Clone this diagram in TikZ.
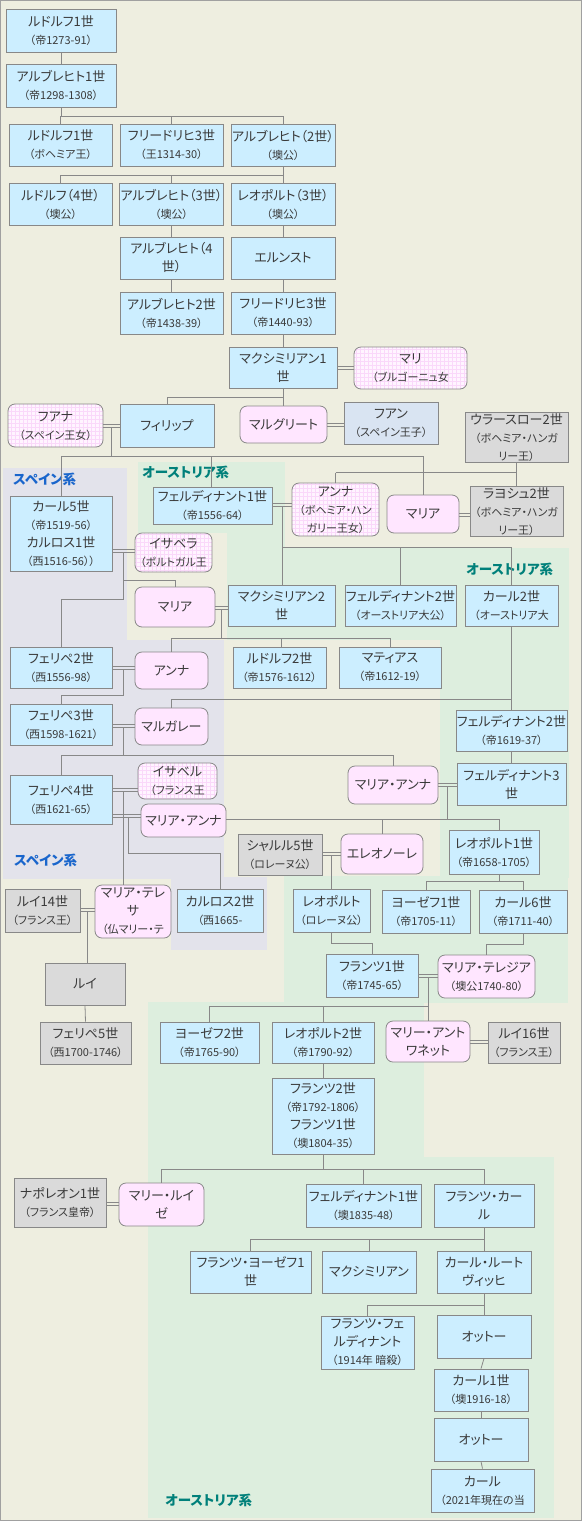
\documentclass[tikz,border=0pt]{standalone}
\usepackage{fontspec}
\setmainfont{Noto Sans CJK JP}[RawFeature=+palt]
\definecolor{bg}{HTML}{EEEEE0}
\definecolor{lav}{HTML}{E3E3EB}
\definecolor{grn}{HTML}{DDEEDE}
\definecolor{bluef}{HTML}{CCEEFF}
\definecolor{pinkf}{HTML}{FFE6FF}
\definecolor{pgf}{HTML}{FFF4FF}
\definecolor{grayf}{HTML}{DADADA}
\definecolor{juanf}{HTML}{D9E4F2}
\definecolor{bd}{HTML}{888888}
\definecolor{lnc}{HTML}{888888}
\definecolor{tx}{HTML}{3A3A3A}
\definecolor{spc}{HTML}{1A66CC}
\definecolor{auc}{HTML}{00807A}
\definecolor{gridc}{HTML}{FAD8FA}
\definecolor{outerc}{HTML}{A0A0A0}
\newcommand\sm{\fontsize{11}{18}\selectfont}
\newcommand\bx[7]{%
  \pgfmathsetmacro\bw{#5-#3}\pgfmathsetmacro\bh{#6-#4}%
  \pgfmathsetmacro\bcx{(#3+#5)/2}\pgfmathsetmacro\bcy{(#4+#6)/2}%
  \node[#2, minimum width=\bw pt, minimum height=\bh pt] (#1) at (\bcx,\bcy) {#7};}
\newcommand\mar[4]{\draw[ln] (#1.east |- 0,#3) -- (#2.west |- 0,#3); \draw[ln] (#1.east |- 0,#4) -- (#2.west |- 0,#4);}
\newcommand\drop[2]{\draw[ln] (#1.north |- 0,#2) -- (#1.north);}
\tikzset{
  base/.style={draw=bd, line width=0.8pt, inner sep=1pt, align=center, text=tx, font=\fontsize{13}{18}\selectfont},
  bl/.style={base, fill=bluef},
  gy/.style={base, fill=grayf},
  jn/.style={base, fill=juanf},
  pk/.style={base, fill=pinkf, rounded corners=7pt},
  pg/.style={base, rounded corners=7pt, fill=pgf, path picture={\draw[gridc, line width=0.5pt, step=4pt] (path picture bounding box.south west) grid (path picture bounding box.north east);}},
  ln/.style={draw=lnc, line width=0.8pt},
  lab/.style={font=\fontsize{13.5}{15}\selectfont\bfseries, anchor=west, inner sep=0pt},
}
\begin{document}
\begin{tikzpicture}[x=1pt,y=-1pt]
\useasboundingbox (0,0) rectangle (582,1521);
\fill[bg] (0,0) rectangle (582,1521);
% regions
\fill[lav] (3,468) rectangle (127,640);
\fill[lav] (3,640) rectangle (224,879);
\fill[lav] (171,877) rectangle (267,950);
\fill[grn] (138,462) rectangle (285,533);
\fill[grn] (227,533) rectangle (285,548);
\fill[grn] (227,548) rectangle (569,640);
\fill[grn] (440,640) rectangle (569,878);
\fill[grn] (284,876) rectangle (568,1003);
\fill[grn] (148,1002) rectangle (424,1160);
\fill[grn] (148,1157) rectangle (554,1518);
\draw[outerc, line width=1.2pt] (0.6,0.6) rectangle (581.4,1520.4);
% labels
\node[lab, text=spc] (sp1) at (13,479) {スペイン系};
\node[lab, text=spc] (sp2) at (14,860) {スペイン系};
\node[lab, text=auc] (au1) at (142,472) {オーストリア系};
\node[lab, text=auc] (au2) at (466,569) {オーストリア系};
\node[lab, text=auc] (au3) at (165,1500) {オーストリア系};
% nodes
\bx{r1}{bl}{6}{9}{116}{52}{ルドルフ1世\\{\sm （帝1273-91）}}
\bx{a1}{bl}{6}{64}{116}{107}{アルブレヒト1世\\{\sm （帝1298-1308）}}
\bx{r1b}{bl}{9}{124}{112}{166}{ルドルフ1世\\{\sm （ボヘミア王）}}
\bx{f3a}{bl}{120}{124}{223}{166}{フリードリヒ3世\\{\sm （王1314-30）}}
\bx{a2}{bl}{231}{124}{335}{166}{アルブレヒト（2世）\\{\sm （墺公）}}
\bx{r4}{bl}{9}{183}{112}{225}{ルドルフ（4世）\\{\sm （墺公）}}
\bx{a3}{bl}{120}{183}{223}{225}{アルブレヒト（3世）\\{\sm （墺公）}}
\bx{l3}{bl}{231}{183}{335}{225}{レオポルト（3世）\\{\sm （墺公）}}
\bx{a4}{bl}{120}{237}{223}{279}{アルブレヒト（4\\世）}
\bx{er}{bl}{231}{237}{335}{279}{エルンスト}
\bx{a2e}{bl}{120}{292}{223}{334}{アルブレヒト2世\\{\sm （帝1438-39）}}
\bx{f3}{bl}{231}{292}{335}{334}{フリードリヒ3世\\{\sm （帝1440-93）}}
\bx{m1}{bl}{229}{347}{337}{388}{マクシミリアン1\\世}
\bx{mari}{pg}{354}{347}{467}{389}{マリ\\{\sm （ブルゴーニュ女}}
\bx{juana}{pg}{8}{404}{103}{447}{フアナ\\{\sm （スペイン王女）}}
\bx{phil}{bl}{120}{404}{214}{447}{フィリップ}
\bx{marg}{pk}{240}{406}{327}{443}{マルグリート}
\bx{juan}{jn}{344}{402}{438}{444}{フアン\\{\sm （スペイン王子）}}
\bx{wl}{gy}{465}{413}{568}{462}{ウラースロー2世\\{\sm （ボヘミア・ハンガ}\\{\sm リー王）}}
\bx{k5}{bl}{10}{496}{112}{571}{カール5世\\{\sm （帝1519-56）}\\カルロス1世\\{\sm （西1516-56））}}
\bx{fd1}{bl}{153}{487}{272}{524}{フェルディナント1世\\{\sm （帝1556-64）}}
\bx{anna1}{pg}{292}{483}{379}{536}{アンナ\\{\sm （ボヘミア・ハン}\\{\sm ガリー王女）}}
\bx{mariaH}{pk}{387}{495}{459}{533}{マリア}
\bx{lj}{gy}{470}{487}{563}{536}{ラヨシュ2世\\{\sm （ボヘミア・ハンガ}\\{\sm リー王）}}
\bx{isab}{pg}{135}{533}{212}{572}{イサベラ\\{\sm （ポルトガル王}}
\bx{mariaS}{pk}{135}{587}{215}{627}{マリア}
\bx{m2}{bl}{228}{585}{335}{626}{マクシミリアン2\\世}
\bx{fd2a}{bl}{345}{585}{456}{626}{フェルディナント2世\\{\sm （オーストリア大公）}}
\bx{k2}{bl}{465}{585}{558}{626}{カール2世\\{\sm （オーストリア大}}
\bx{p2}{bl}{10}{647}{112}{688}{フェリペ2世\\{\sm （西1556-98）}}
\bx{anna2}{pk}{135}{652}{208}{689}{アンナ}
\bx{r2}{bl}{233}{647}{326}{688}{ルドルフ2世\\{\sm （帝1576-1612）}}
\bx{mat}{bl}{339}{647}{441}{688}{マティアス\\{\sm （帝1612-19）}}
\bx{p3}{bl}{10}{704}{112}{745}{フェリペ3世\\{\sm （西1598-1621）}}
\bx{marga}{pk}{135}{708}{208}{745}{マルガレー}
\bx{fd2}{bl}{457}{710}{566}{751}{フェルディナント2世\\{\sm （帝1619-37）}}
\bx{p4}{bl}{10}{775}{112}{824}{フェリペ4世\\{\sm （西1621-65）}}
\bx{isabel}{pg}{138}{763}{217}{799}{イサベル\\{\sm （フランス王}}
\bx{maS}{pk}{141}{804}{226}{837}{マリア・アンナ}
\bx{maA}{pk}{348}{766}{438}{804}{マリア・アンナ}
\bx{fd3}{bl}{457}{763}{566}{805}{フェルディナント3\\世}
\bx{ch5}{gy}{238}{834}{322}{875}{シャルル5世\\{\sm （ロレーヌ公）}}
\bx{eleo}{pk}{341}{834}{423}{874}{エレオノーレ}
\bx{l1}{bl}{449}{830}{539}{874}{レオポルト1世\\{\sm （帝1658-1705）}}
\bx{l14}{gy}{5}{889}{80}{932}{ルイ14世\\{\sm （フランス王）}}
\bx{mt}{pk}{95}{885}{171}{938}{マリア・テレ\\サ\\{\sm （仏マリー・テ}}
\bx{c2}{bl}{177}{889}{263}{932}{カルロス2世\\{\sm （西1665-}}
\bx{lor}{bl}{293}{889}{370}{932}{レオポルト\\{\sm （ロレーヌ公）}}
\bx{j1}{bl}{382}{890}{470}{933}{ヨーゼフ1世\\{\sm （帝1705-11）}}
\bx{k6}{bl}{479}{890}{567}{933}{カール6世\\{\sm （帝1711-40）}}
\bx{fz1}{bl}{326}{954}{418}{997}{フランツ1世\\{\sm （帝1745-65）}}
\bx{mth}{pk}{438}{955}{535}{998}{マリア・テレジア\\{\sm （墺公1740-80）}}
\bx{louis}{gy}{45}{963}{125}{1005}{ルイ}
\bx{p5}{gy}{40}{1022}{131}{1064}{フェリペ5世\\{\sm （西1700-1746）}}
\bx{j2}{bl}{160}{1022}{259}{1063}{ヨーゼフ2世\\{\sm （帝1765-90）}}
\bx{l2}{bl}{272}{1022}{374}{1063}{レオポルト2世\\{\sm （帝1790-92）}}
\bx{ma}{pk}{386}{1021}{470}{1062}{マリー・アント\\ワネット}
\bx{l16}{gy}{488}{1022}{560}{1063}{ルイ16世\\{\sm （フランス王）}}
\bx{fz2}{bl}{272}{1078}{374}{1154}{フランツ2世\\{\sm （帝1792-1806）}\\フランツ1世\\{\sm （墺1804-35）}}
\bx{nap}{gy}{14}{1178}{106}{1227}{ナポレオン1世\\{\sm （フランス皇帝）}}
\bx{ml}{pk}{119}{1183}{204}{1226}{マリー・ルイ\\ゼ}
\bx{fd1b}{bl}{306}{1184}{421}{1227}{フェルディナント1世\\{\sm （墺1835-48）}}
\bx{fk}{bl}{434}{1184}{534}{1227}{フランツ・カー\\ル}
\bx{fj}{bl}{190}{1251}{311}{1293}{フランツ・ヨーゼフ1\\世}
\bx{mx}{bl}{322}{1251}{416}{1293}{マクシミリアン}
\bx{kl}{bl}{437}{1251}{531}{1293}{カール・ルート\\ヴィッヒ}
\bx{ff}{bl}{321}{1316}{414}{1369}{フランツ・フェ\\ルディナント\\{\sm （1914年 暗殺）}}
\bx{ot1}{bl}{437}{1315}{531}{1358}{オットー}
\bx{k1}{bl}{434}{1369}{528}{1411}{カール1世\\{\sm （墺1916-18）}}
\bx{ot2}{bl}{434}{1418}{528}{1461}{オットー}
\bx{kc}{bl}{431}{1469}{534}{1512}{カール\\{\sm （2021年現在の当}}
% connectors
\draw[ln] (r1.south) -- (a1.north);
\draw[ln] (a1.south) -- (a1.south |- 0,116);
\draw[ln] (r1b.north |- 0,116) -- (a2.north |- 0,116);
\drop{r1b}{116}\drop{f3a}{116}\drop{a2}{116}
\draw[ln] (a2.south) -- (a2.south |- 0,175);
\draw[ln] (r4.north |- 0,175) -- (l3.north |- 0,175);
\drop{r4}{175}\drop{a3}{175}\drop{l3}{175}
\draw[ln] (a3.south) -- (a4.north);
\draw[ln] (a4.south) -- (a2e.north);
\draw[ln] (l3.south) -- (er.north);
\draw[ln] (er.south) -- (f3.north);
\draw[ln] (f3.south) -- (m1.north);
\mar{m1}{mari}{366.5}{369.5}
\draw[ln] (m1.south) -- (m1.south |- 0,397);
\draw[ln] (phil.north |- 0,397) -- (m1.south |- 0,397);
\drop{phil}{397}
\draw[ln] (m1.south |- 0,397) -- (m1.south |- marg.north);
\mar{juana}{phil}{424}{427}
\draw[ln] (111.5,427) -- (111.5,456);
\draw[ln] (k5.north |- 0,456) -- (mariaH.north |- 0,456);
\drop{k5}{456}\drop{mariaH}{456}
\draw[ln] (211,456) -- (211,0 |- fd1.north);
\mar{marg}{juan}{423.5}{426.5}
\draw[ln] (wl.south) -- (wl.south |- 0,472.5);
\draw[ln] (anna1.north |- 0,472.5) -- (lj.north |- 0,472.5);
\drop{anna1}{472.5}\drop{lj}{472.5}
\mar{fd1}{anna1}{503}{506}
\draw[ln] (282,506) -- (282,0 |- m2.north);
\draw[ln] (282,547) -- (k2.north |- 0,547);
\drop{fd2a}{547}\drop{k2}{547}
\mar{mariaH}{lj}{513}{516}
\mar{k5}{isab}{549.5}{552.5}
\draw[ln] (123.5,552.5) -- (123.5,599);
\draw[ln] (123.5,580) -- (mariaS.north |- 0,580);
\drop{mariaS}{580}
\draw[ln] (123.5,599) -- (p2.north |- 0,599);
\drop{p2}{599}
\mar{mariaS}{m2}{606}{609}
\draw[ln] (221.5,609) -- (221.5,638);
\draw[ln] (anna2.north |- 0,638) -- (mat.north |- 0,638);
\drop{anna2}{638}\drop{mat}{638}
\draw[ln] (281,638) -- (281,0 |- r2.north);
\mar{p2}{anna2}{666}{669}
\draw[ln] (123.5,669) -- (123.5,695) -- (p3.north |- 0,695);
\drop{p3}{695}
\draw[ln] (k2.south) -- (k2.south |- 0,699);
\draw[ln] (marga.north |- 0,699) -- (k2.south |- 0,699);
\drop{marga}{699}
\draw[ln] (k2.south |- 0,699) -- (k2.south |- fd2.north);
\mar{p3}{marga}{724.5}{727.5}
\draw[ln] (123.5,727.5) -- (123.5,755);
\draw[ln] (p4.north |- 0,755) -- (maA.north |- 0,755);
\drop{p4}{755}\drop{maA}{755}
\draw[ln] (fd2.south) -- (fd3.north);
\mar{maA}{fd3}{783}{786}
\draw[ln] (447.5,786) -- (447.5,819);
\draw[ln] (maS.east |- 0,819) -- (499,819);
\drop{eleo}{819}
\draw[ln] (499,819) -- (499,0 |- l1.north);
\mar{p4}{isabel}{788}{791}
\draw[ln] (123.5,791) -- (123.5,0 |- mt.north);
\mar{p4}{maS}{814}{817}
\draw[ln] (128.5,817) -- (128.5,853) -- (c2.north |- 0,853);
\drop{c2}{853}
\mar{ch5}{eleo}{852}{855}
\draw[ln] (331.5,855) -- (331.5,0 |- lor.north);
\draw[ln] (lor.south) -- (lor.south |- 0,943) -- (fz1.north |- 0,943);
\drop{fz1}{943}
\draw[ln] (499,0 |- l1.south) -- (499,881);
\draw[ln] (j1.north |- 0,881) -- (k6.north |- 0,881);
\drop{j1}{881}\drop{k6}{881}
\draw[ln] (k6.south) -- (k6.south |- 0,944) -- (mth.north |- 0,944);
\drop{mth}{944}
\mar{fz1}{mth}{974}{977}
\draw[ln] (428,977) -- (428,1006);
\draw[ln] (j2.north |- 0,1006) -- (428,1006);
\drop{j2}{1006}\drop{l2}{1006}
\draw[ln] (428,1006) -- (428,0 |- ma.north);
\mar{ma}{l16}{1040}{1043}
\mar{l14}{mt}{908}{911}
\draw[ln] (87,911) -- (87,0 |- louis.north);
\draw[ln] (louis.south) -- (p5.north);
\draw[ln] (l2.south) -- (fz2.north);
\draw[ln] (fz2.south) -- (fz2.south |- 0,1169);
\draw[ln] (ml.north |- 0,1169) -- (fk.north |- 0,1169);
\drop{ml}{1169}\drop{fd1b}{1169}\drop{fk}{1169}
\mar{nap}{ml}{1202}{1205}
\draw[ln] (fk.south) -- (fk.south |- 0,1239);
\draw[ln] (fj.north |- 0,1239) -- (kl.north |- 0,1239);
\drop{fj}{1239}\drop{mx}{1239}\drop{kl}{1239}
\draw[ln] (kl.south) -- (kl.south |- 0,1305);
\draw[ln] (ff.north |- 0,1305) -- (kl.south |- 0,1305);
\drop{ff}{1305}
\draw[ln] (kl.south |- 0,1305) -- (ot1.north);
\draw[ln] (ot1.south) -- (k1.north);
\draw[ln] (k1.south) -- (ot2.north);
\draw[ln] (ot2.south) -- (kc.north);
\end{tikzpicture}
\end{document}
